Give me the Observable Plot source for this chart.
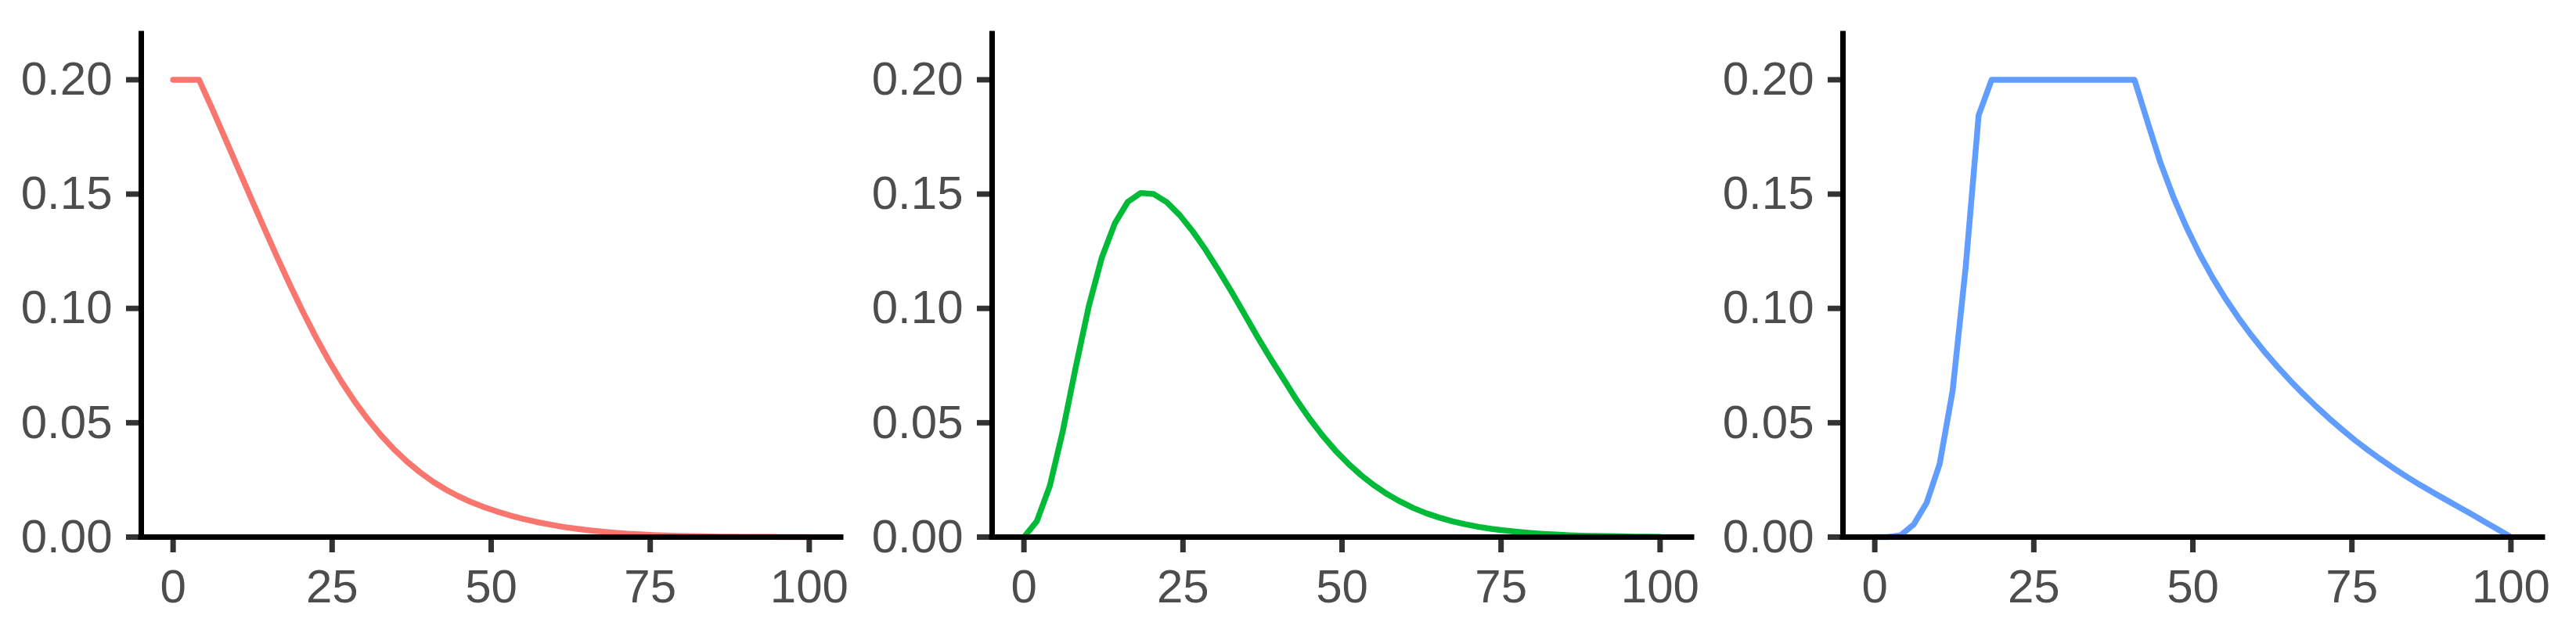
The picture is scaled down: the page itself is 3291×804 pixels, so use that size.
<!DOCTYPE html>
<html>
<head>
<meta charset="utf-8">
<script src="https://cdn.jsdelivr.net/npm/d3@7"></script>
<script src="https://cdn.jsdelivr.net/npm/@observablehq/plot@0.6"></script>
<style>
  html, body { margin: 0; padding: 0; background: #ffffff; }
  #wrap { display: flex; flex-direction: row; align-items: flex-start; }
</style>
</head>
<body>
<div id="wrap"></div>
<script>
// x positions of the sampled points (shared by the three panels)
const xs = [0, 2.04, 4.08, 6.12, 8.16, 10.20, 12.24, 14.29, 16.33, 18.37,
  20.41, 22.45, 24.49, 26.53, 28.57, 30.61, 32.65, 34.69, 36.73, 38.78,
  40.82, 42.86, 44.90, 46.94, 48.98, 51.02, 53.06, 55.10, 57.14, 59.18,
  61.22, 63.27, 65.31, 67.35, 69.39, 71.43, 73.47, 75.51, 77.55, 79.59,
  81.63, 83.67, 85.71, 87.76, 89.80, 91.84, 93.88, 95.92, 97.96, 100];

// panel 1 (red)
const redValues = [0.2, 0.2, 0.2, 0.1875, 0.1745, 0.1614, 0.1483, 0.1353, 0.1226, 0.1103,
  0.0985, 0.0874, 0.0771, 0.0677, 0.0592, 0.0515, 0.0446, 0.0385, 0.0331, 0.0284,
  0.0243, 0.0208, 0.0178, 0.0152, 0.0130, 0.0111, 0.0094, 0.0079, 0.0066, 0.0055,
  0.0045, 0.0037, 0.0030, 0.0024, 0.0019, 0.0015, 0.0012, 0.0009, 0.0007, 0.0005,
  0.0004, 0.0003, 0.0002, 0.0002, 0.0001, 0.0001, 0.0001, 0, 0, 0];

// panel 2 (green)
const greenValues = [0, 0.0070, 0.0225, 0.0465, 0.0745, 0.1010, 0.1222, 0.1372, 0.1466, 0.1505,
  0.1500, 0.1465, 0.1408, 0.1337, 0.1256, 0.1166, 0.1072, 0.0974, 0.0875, 0.0780,
  0.0690, 0.0600, 0.0518, 0.0444, 0.0378, 0.0320, 0.0269, 0.0225, 0.0187, 0.0155,
  0.0127, 0.0104, 0.0085, 0.0069, 0.0056, 0.0045, 0.0036, 0.0029, 0.0023, 0.0018,
  0.0014, 0.0011, 0.0008, 0.0006, 0.0005, 0.0004, 0.0003, 0.0002, 0.0002, 0.0001];

// panel 3 (blue)
const blueValues = [0, 0, 0.0008, 0.0055, 0.0150, 0.0320, 0.0640, 0.1180, 0.1845, 0.2,
  0.2, 0.2, 0.2, 0.2, 0.2, 0.2, 0.2, 0.2, 0.2, 0.2,
  0.2, 0.1817, 0.1638, 0.1487, 0.1356, 0.1240, 0.1137, 0.1044, 0.0960, 0.0883,
  0.0812, 0.0746, 0.0684, 0.0626, 0.0571, 0.0519, 0.0470, 0.0423, 0.0380, 0.0339,
  0.0300, 0.0263, 0.0228, 0.0195, 0.0163, 0.0131, 0.0099, 0.0066, 0.0033, 0];

const seriesColors = ["#F8766D", "#00BA38", "#619CFF"];
const xTicks = [0, 25, 50, 75, 100];
const yTicks = [0, 0.05, 0.10, 0.15, 0.20];
const xDomain = [-5, 105];
const yDomain = [0, 0.22];

const panels = [redValues, greenValues, blueValues];
const wrap = document.getElementById("wrap");

panels.forEach((vals, k) => {
  const data = xs.map((x, i) => ({x, y: vals[i]}));
  const chart = Plot.plot({
    width: 1087,
    height: 804,
    marginLeft: 180,
    marginRight: 13,
    marginTop: 43,
    marginBottom: 118,
    style: {
      fontFamily: "'Liberation Sans', Arial, Helvetica, sans-serif",
      fontSize: "60px",
      background: "#ffffff",
      overflow: "visible"
    },
    x: {domain: xDomain},
    y: {domain: yDomain},
    marks: [
      Plot.line(data, {x: "x", y: "y", stroke: seriesColors[k], strokeWidth: 7.5, strokeLinejoin: "round"}),
      Plot.axisX({ticks: xTicks, tickSize: 20, tickPadding: 21, stroke: "#333333", strokeWidth: 7,
        fill: "#4d4d4d", fontSize: 60, label: null}),
      Plot.axisY({ticks: yTicks, tickSize: 19, tickPadding: 18, tickFormat: d3.format(".2f"),
        stroke: "#333333", strokeWidth: 7, fill: "#4d4d4d", fontSize: 60, label: null}),
      Plot.ruleY([yDomain[0]], {stroke: "#000000", strokeWidth: 7, strokeLinecap: "square"}),
      Plot.ruleX([xDomain[0]], {stroke: "#000000", strokeWidth: 7, strokeLinecap: "square"})
    ]
  });
  wrap.appendChild(chart);
});
</script>
</body>
</html>
